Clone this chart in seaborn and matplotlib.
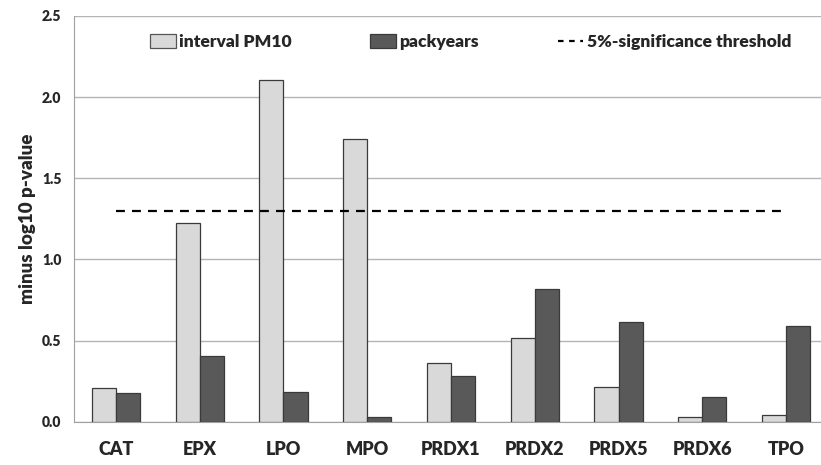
import matplotlib
matplotlib.use("Agg")
import matplotlib.pyplot as plt
import seaborn as sns
import pandas as pd
from matplotlib.patches import Patch
from matplotlib.lines import Line2D

genes = ["CAT", "EPX", "LPO", "MPO", "PRDX1", "PRDX2", "PRDX5", "PRDX6", "TPO"]
pm10 = [0.206, 1.222, 2.103, 1.740, 0.364, 0.518, 0.212, 0.027, 0.040]
packyears = [0.177, 0.405, 0.181, 0.027, 0.280, 0.818, 0.612, 0.150, 0.592]
threshold = 1.30
series_names = ["interval PM10", "packyears"]

df = pd.DataFrame({
    "gene": genes * 2,
    "value": pm10 + packyears,
    "series": [series_names[0]] * len(genes) + [series_names[1]] * len(genes),
})

sns.set_style("white")
plt.rcParams["font.family"] = ["Lato", "DejaVu Sans"]
plt.rcParams["font.weight"] = "heavy"
W = "heavy"

light = "#d9d9d9"
dark = "#595959"

fig = plt.figure(figsize=(8.21, 4.65), dpi=100)
ax = fig.add_axes([74 / 821, 0.0931, 754 / 821, 0.8725])

sns.barplot(data=df, x="gene", y="value", hue="series", order=genes,
            hue_order=series_names, palette=[light, dark], width=0.575,
            edgecolor="#3a3a3a", linewidth=0.9, saturation=1, ax=ax,
            legend=False, zorder=3)

# 5%-significance threshold
ax.plot([0, len(genes) - 1], [threshold, threshold], color="black",
        linestyle=(0, (4, 3.2)), linewidth=1.6, zorder=4)

ax.set_xlim(-0.5, len(genes) - 0.5)
ax.set_ylim(0, 2.5)
ax.set_yticks([0, 0.5, 1.0, 1.5, 2.0, 2.5])
ax.set_yticklabels(["0.0", "0.5", "1.0", "1.5", "2.0", "2.5"])
ax.yaxis.grid(True, color="#b4b4b4", linewidth=1.0, zorder=0)
ax.set_axisbelow(True)

ax.set_xlabel("")
ax.set_ylabel("minus log10 p-value", fontsize=13.5, fontweight=W, labelpad=4)

for side in ["top", "right"]:
    ax.spines[side].set_visible(False)
ax.spines["left"].set_color("#a0a0a0")
ax.spines["bottom"].set_color("#a0a0a0")

ax.tick_params(axis="x", which="major", length=0, pad=14, labelsize=13)
ax.set_xticks([i + 0.5 for i in range(len(genes))], minor=True)
ax.tick_params(axis="x", which="minor", length=5, color="#a0a0a0", direction="out")
ax.tick_params(axis="y", length=5, color="#a0a0a0", labelsize=10, pad=4)
for lab in ax.get_xticklabels() + ax.get_yticklabels():
    lab.set_fontweight(W)

handles = [
    Patch(facecolor=light, edgecolor="#555555", linewidth=0.9),
    Patch(facecolor=dark, edgecolor="#3a3a3a", linewidth=0.9),
    Line2D([0], [0], color="black", linestyle=(0, (2.5, 2.5)), linewidth=1.6),
]
labels = series_names + ["5%-significance threshold"]
leg = ax.legend(handles, labels, loc="center left", bbox_to_anchor=(0.101, 0.936),
                ncol=3, frameon=False, borderpad=0, borderaxespad=0,
                handlelength=1.45, handleheight=0.8, handletextpad=0.2,
                columnspacing=4.5, prop={"size": 12.6, "weight": W})

fig.savefig("out.png", dpi=100)
